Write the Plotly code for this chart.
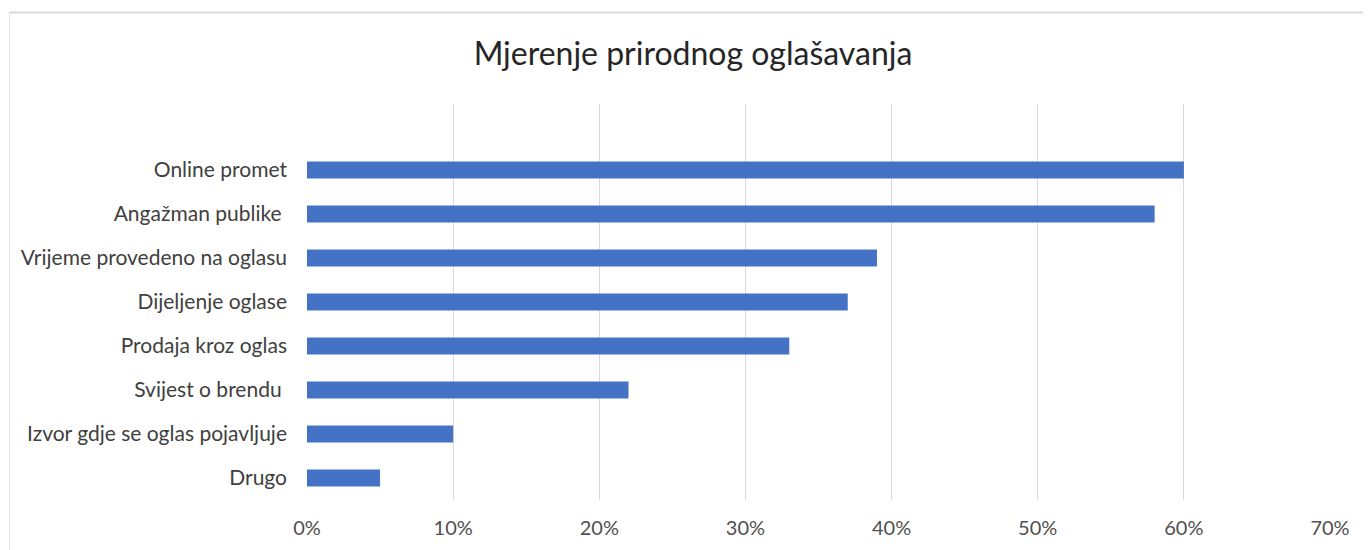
import plotly.graph_objects as go

categories = ["Online promet", "Angažman publike\u00a0", "Vrijeme provedeno na oglasu",
              "Dijeljenje oglase", "Prodaja kroz oglas", "Svijest o brendu\u00a0",
              "Izvor gdje se oglas pojavljuje", "Drugo"]
values = [0.60, 0.58, 0.39, 0.37, 0.33, 0.22, 0.10, 0.05]
tick_vals = [0, 0.1, 0.2, 0.3, 0.4, 0.5, 0.6, 0.7]
tick_text = ["0%", "10%", "20%", "30%", "40%", "50%", "60%", "70%"]

order = list(reversed(categories))

fig = go.Figure(go.Bar(
    x=values, y=categories, orientation="h",
    marker=dict(color="#4472C4", line=dict(width=0)),
    width=0.39,
))

OFF = 8  # page body margin
W, H = 1371 - OFF, 550 - OFF
l, r, t, b = 307 - OFF, 41, 104 - OFF, 50
pw, ph = W - l - r, H - t - b

def px_x(p):
    return (p - OFF - l) / pw

def px_y(p):
    return (H - b - (p - OFF)) / ph

fig.update_layout(
    width=W, height=H,
    margin=dict(l=l, r=r, t=t, b=b),
    paper_bgcolor="white", plot_bgcolor="white",
    font=dict(family="Lato, 'Open Sans', sans-serif", color="#404040", size=21),
    title=dict(text="Mjerenje prirodnog oglašavanja", x=(693 - OFF) / W, xanchor="center",
               y=1 - (54 - OFF) / H, yanchor="middle",
               font=dict(size=32, color="#262626")),
    showlegend=False,
    xaxis=dict(range=[0, 0.7], tickvals=tick_vals, ticktext=tick_text,
               showgrid=True, gridcolor="#d9d9d9", gridwidth=1,
               zeroline=False, showline=False, ticks="",
               ticklabelstandoff=14, tickfont=dict(size=20, color="#505050"),
               fixedrange=True),
    yaxis=dict(type="category", categoryorder="array", categoryarray=order,
               range=[-0.5, 8.5], showgrid=False, zeroline=False, showline=False,
               ticks="", ticklabelstandoff=19, fixedrange=True),
    shapes=[
        dict(type="line", xref="paper", yref="paper", x0=px_x(9.5), x1=px_x(1371),
             y0=px_y(12.5), y1=px_y(12.5), line=dict(color="#d9d9d9", width=2)),
        dict(type="line", xref="paper", yref="paper", x0=px_x(9.5), x1=px_x(9.5),
             y0=px_y(12.5), y1=px_y(550), line=dict(color="#e3e3e3", width=1)),
    ],
)

fig.write_html("out.html")
